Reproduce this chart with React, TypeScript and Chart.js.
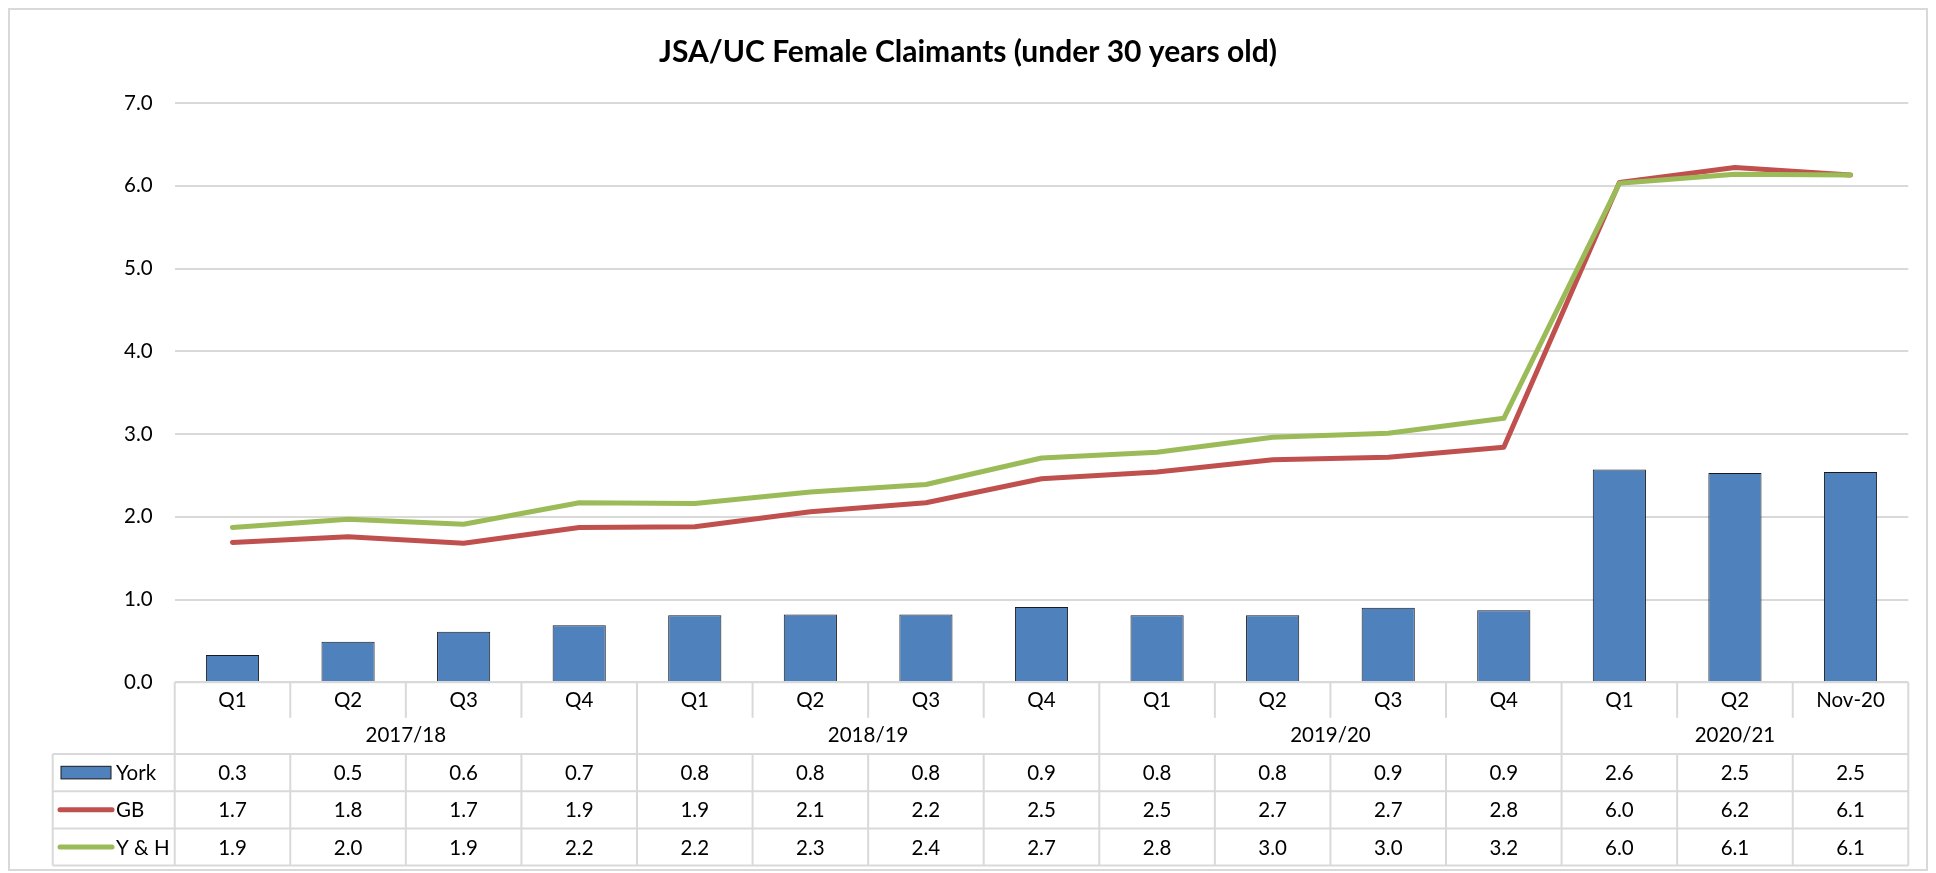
import React, { useEffect, useRef } from "react";
import { Chart, registerables } from "chart.js";

Chart.register(...registerables);

const quarters = ["Q1", "Q2", "Q3", "Q4", "Q1", "Q2", "Q3", "Q4", "Q1", "Q2", "Q3", "Q4", "Q1", "Q2", "Nov-20"];
const years = ["2017/18", "2018/19", "2019/20", "2020/21"];
const yearSpans = [4, 4, 4, 3];
const york = [0.33, 0.49, 0.61, 0.69, 0.81, 0.82, 0.82, 0.91, 0.81, 0.81, 0.9, 0.87, 2.57, 2.53, 2.54];
const gb = [1.69, 1.76, 1.68, 1.87, 1.88, 2.06, 2.17, 2.46, 2.54, 2.69, 2.72, 2.84, 6.04, 6.22, 6.13];
const yh = [1.87, 1.97, 1.91, 2.17, 2.16, 2.3, 2.39, 2.71, 2.78, 2.96, 3.01, 3.19, 6.03, 6.14, 6.13];
const yTicks = [0, 1, 2, 3, 4, 5, 6, 7];
const title = "JSA/UC Female Claimants (under 30 years old)";

const BLUE = "#4f81bd";
const RED = "#c0504d";
const GREEN = "#9bbb59";
const GRID = "#d9d9d9";
const FONT = "Lato, 'Noto Sans', sans-serif";

const W = 1920;
const H = 863;

const tablePlugin = {
  id: "dataTable",
  beforeDraw(chart: any) {
    const ctx = chart.ctx;
    ctx.save();
    ctx.strokeStyle = GRID;
    ctx.lineWidth = 2;
    ctx.strokeRect(1, 1, chart.width - 2, chart.height - 2);
    ctx.restore();
  },
  afterDraw(chart: any) {
    const ctx = chart.ctx;
    const area = chart.chartArea;
    const xs = chart.scales.x;
    const n = quarters.length;
    const L = area.left;
    const R = area.right;
    const colW = (R - L) / n;
    const T = area.bottom;
    const qSep = 35.5;
    const catH = 71.7;
    const rowH = 37.2;
    const legL = 44.7;
    const dataTop = T + catH;
    const bottom = dataTop + rowH * 3;

    ctx.save();
    ctx.fillStyle = "#000";
    ctx.font = `bold 30px ${FONT}`;
    ctx.textAlign = "center";
    ctx.textBaseline = "alphabetic";
    ctx.fillText(title, chart.width / 2, 53.5);

    ctx.strokeStyle = GRID;
    ctx.lineWidth = 2;
    const line = (x1: number, y1: number, x2: number, y2: number) => {
      ctx.beginPath();
      ctx.moveTo(x1, y1);
      ctx.lineTo(x2, y2);
      ctx.stroke();
    };
    line(L, T, R, T);
    line(legL, dataTop, R, dataTop);
    for (let r = 1; r <= 3; r++) line(legL, dataTop + rowH * r, R, dataTop + rowH * r);
    line(legL, dataTop, legL, bottom);
    line(L, T, L, bottom);
    line(R, T, R, bottom);
    let acc = 0;
    const groupEnds: number[] = [];
    yearSpans.forEach((s) => {
      acc += s;
      groupEnds.push(acc);
    });
    for (let i = 1; i < n; i++) {
      const x = L + colW * i;
      if (groupEnds.includes(i)) line(x, T, x, bottom);
      else {
        line(x, T, x, T + qSep);
        line(x, dataTop, x, bottom);
      }
    }

    ctx.fillStyle = "#000";
    ctx.font = `20.5px ${FONT}`;
    ctx.textAlign = "center";
    ctx.textBaseline = "middle";
    quarters.forEach((q, i) => {
      ctx.fillText(q, xs.getPixelForValue(i), T + 18.5);
    });
    let start = 0;
    years.forEach((y, gi) => {
      const s = yearSpans[gi];
      const cx = L + colW * (start + s / 2);
      ctx.fillText(y, cx, T + 53.5);
      start += s;
    });
    const rows = [york, gb, yh];
    rows.forEach((vals, r) => {
      const cy = dataTop + rowH * r + rowH / 2 + 1;
      vals.forEach((v, i) => {
        ctx.fillText((Math.round(v * 10) / 10).toFixed(1), xs.getPixelForValue(i), cy);
      });
    });

    const names = ["York", "GB", "Y & H"];
    names.forEach((nm, r) => {
      const cy = dataTop + rowH * r + rowH / 2;
      if (r === 0) {
        ctx.fillStyle = BLUE;
        ctx.fillRect(53, cy - 6.3, 50, 12.6);
        ctx.strokeStyle = "#1a1a1a";
        ctx.lineWidth = 1;
        ctx.strokeRect(53, cy - 6.3, 50, 12.6);
      } else {
        ctx.strokeStyle = r === 1 ? RED : GREEN;
        ctx.lineWidth = 5;
        ctx.lineCap = "round";
        ctx.beginPath();
        ctx.moveTo(52, cy);
        ctx.lineTo(104, cy);
        ctx.stroke();
      }
      ctx.fillStyle = "#000";
      ctx.textAlign = "left";
      ctx.fillText(nm, 108, cy + 1);
    });
    ctx.restore();
  },
};

export default function App() {
  const ref = useRef<HTMLCanvasElement | null>(null);
  useEffect(() => {
    if (!ref.current) return;
    const chart = new Chart(ref.current, {
      type: "bar",
      data: {
        labels: quarters,
        datasets: [
          {
            type: "line",
            label: "Y & H",
            data: yh,
            borderColor: GREEN,
            backgroundColor: GREEN,
            borderWidth: 5,
            pointRadius: 0,
            borderCapStyle: "round",
            borderJoinStyle: "round",
            tension: 0,
            order: 1,
          },
          {
            type: "line",
            label: "GB",
            data: gb,
            borderColor: RED,
            backgroundColor: RED,
            borderWidth: 5,
            pointRadius: 0,
            borderCapStyle: "round",
            borderJoinStyle: "round",
            tension: 0,
            order: 2,
          },
          {
            type: "bar",
            label: "York",
            data: york,
            backgroundColor: BLUE,
            borderColor: "#1a1a1a",
            borderWidth: 1,
            barPercentage: 0.46,
            categoryPercentage: 1,
            order: 3,
          },
        ],
      } as any,
      options: {
        responsive: false,
        animation: false,
        devicePixelRatio: 1,
        layout: { padding: { left: 0, right: 19.7, top: 95, bottom: H - 674.3 } },
        plugins: {
          legend: { display: false },
          tooltip: { enabled: false },
          title: { display: false },
        },
        scales: {
          x: { display: false, offset: true },
          y: {
            min: 0,
            max: 7,
            afterBuildTicks: (s: any) => {
              s.ticks = yTicks.map((v) => ({ value: v }));
            },
            afterFit: (s: any) => {
              s.width = 166.7;
            },
            ticks: {
              padding: 22,
              color: "#000",
              font: { family: FONT, size: 20.5 },
              callback: (v: any) => Number(v).toFixed(1),
            },
            grid: { color: GRID, lineWidth: 2, drawTicks: false },
            border: { display: false },
          },
        },
      } as any,
      plugins: [tablePlugin],
    });
    return () => chart.destroy();
  }, []);
  return (
    <div style={{ width: W, height: H }}>
      <canvas ref={ref} width={W} height={H} style={{ display: "block" }} />
    </div>
  );
}
